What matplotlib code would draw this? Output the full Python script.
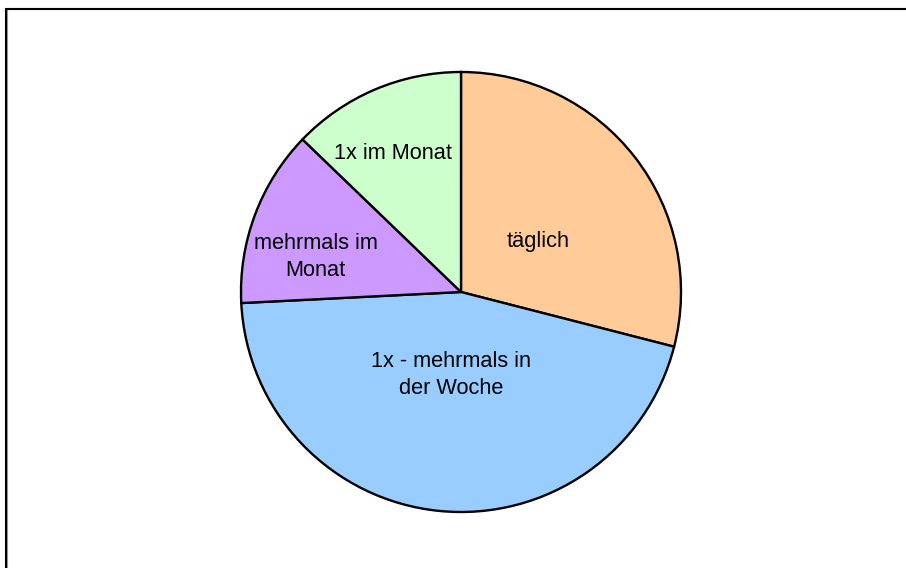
import matplotlib
matplotlib.use("Agg")
import matplotlib.pyplot as plt
import numpy as np
from matplotlib.patches import Rectangle

categories = ["täglich", "1x - mehrmals in\nder Woche", "mehrmals im\nMonat", "1x im Monat"]
values = [29.0, 45.2, 13.0, 12.8]
colors = ["#FFCC99", "#99CCFF", "#CC99FF", "#CCFFCC"]
# label placement (fraction of radius, angle in degrees)
label_pos = [(0.42, 33), (0.38, -97), (0.68, 166.5), (0.70, 116)]

W, H = 906, 568
fig = plt.figure(figsize=(W / 100, H / 100), dpi=100)
fig.patch.set_facecolor("white")

# frame
fig.add_artist(Rectangle((7 / W, -0.1), 1.2, 1 - 9.5 / H + 0.1, transform=fig.transFigure,
                         fill=False, edgecolor="#999999", linewidth=1.5, zorder=0))
fig.add_artist(Rectangle((5.5 / W, -0.1), 1.2, 1 - 8.5 / H + 0.1, transform=fig.transFigure,
                         fill=False, edgecolor="black", linewidth=1.5, zorder=1))

cx, cy, r = 461, 292, 220
ax = fig.add_axes([(cx - r) / W, (H - cy - r) / H, 2 * r / W, 2 * r / H])
wedges, _ = ax.pie(values, colors=colors, startangle=90, counterclock=False,
                   wedgeprops=dict(edgecolor="black", linewidth=1.7), radius=1)
ax.set_xlim(-1, 1)
ax.set_ylim(-1, 1)
ax.set_aspect("equal")
ax.axis("off")

for lab, (rr, ang) in zip(categories, label_pos):
    a = np.deg2rad(ang)
    ax.text(rr * np.cos(a), rr * np.sin(a), lab, ha="center", va="center",
            fontsize=15.7, family="Liberation Sans", linespacing=1.42)

fig.savefig("out.png", dpi=100)
